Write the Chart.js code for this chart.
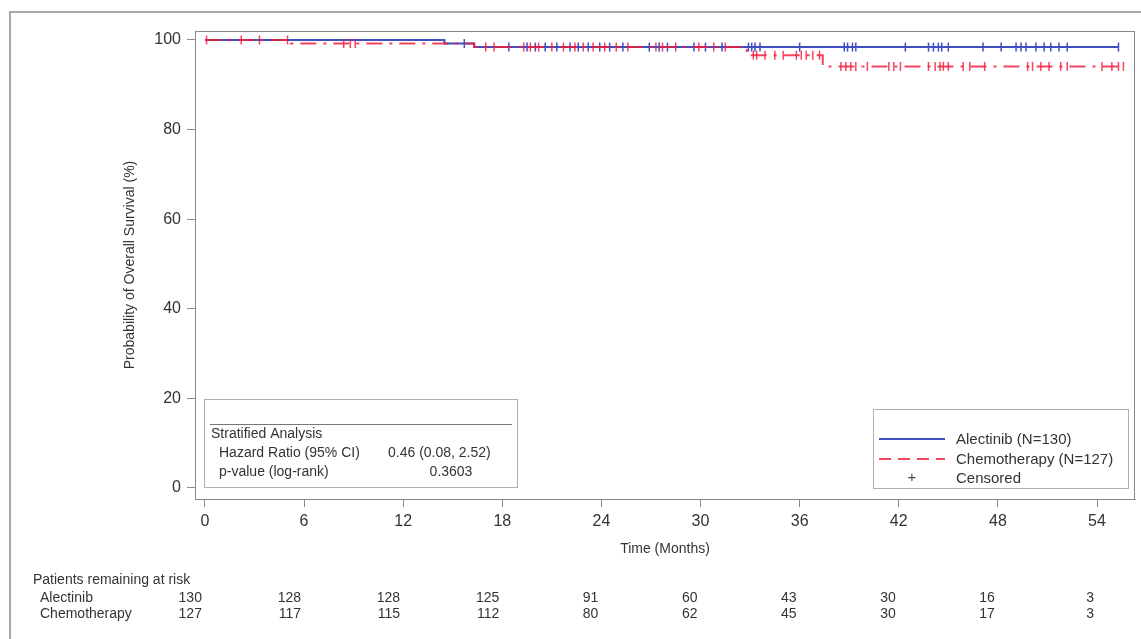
<!DOCTYPE html>
<html><head><meta charset="utf-8">
<script src="https://cdn.jsdelivr.net/npm/chart.js@4.4.1/dist/chart.umd.min.js"></script>
<style>html,body{margin:0;padding:0;background:#fff;}#wrap{width:1141px;height:639px;position:relative;}</style>
</head><body><div id="wrap"><canvas id="c" width="1141" height="639"></canvas></div>
<script>
const xTicks = [0, 6, 12, 18, 24, 30, 36, 42, 48, 54];
const yTicks = [0, 20, 40, 60, 80, 100];
const alecTimes = [0, 14.5, 16.3, 55.3];
const alecSurv  = [100, 99.2, 98.4, 98.4];
const chemoTimes = [0, 5.2, 16.3, 32.8, 37.4, 55.6];
const chemoSurv  = [100, 99.2, 98.4, 96.6, 94.1, 94.1];
const alecCensor = [15.7, 18.4, 19.5, 20.0, 20.6, 21.3, 22.1, 22.6, 23.2, 23.9, 24.5, 25.3, 26.9, 27.5, 28.0, 29.6, 30.3, 31.3, 32.9, 33.1, 33.3, 33.6, 36.0, 38.7, 38.9, 39.2, 39.4, 42.4, 43.8, 44.1, 44.4, 44.6, 45.0, 47.1, 48.2, 49.1, 49.4, 49.7, 50.3, 50.8, 51.2, 51.7, 52.2, 55.3];
const chemoCensor = [0.1, 2.2, 3.3, 5.0, 8.4, 8.8, 9.1, 17.0, 17.5, 19.3, 19.7, 20.2, 21.0, 21.7, 22.4, 22.9, 23.5, 24.2, 24.9, 25.6, 27.3, 27.7, 28.5, 29.9, 30.8, 31.5, 33.2, 33.4, 33.9, 34.5, 35.0, 35.8, 36.1, 36.4, 36.8, 37.2, 38.5, 38.8, 39.1, 39.4, 40.1, 41.4, 41.7, 42.1, 43.8, 44.2, 44.5, 44.7, 45.0, 45.9, 46.3, 47.2, 49.8, 50.1, 50.6, 51.1, 51.8, 52.2, 54.3, 54.9, 55.3, 55.6];
const riskAlec  = [130, 128, 128, 125, 91, 60, 43, 30, 16, 3];
const riskChemo = [127, 117, 115, 112, 80, 62, 45, 30, 17, 3];
const seriesNames = ['Alectinib (N=130)', 'Chemotherapy (N=127)'];
const riskNames = ['Alectinib', 'Chemotherapy'];

const FONT = "'Liberation Sans', Arial, sans-serif";
const TXT = '#333';
const BLUE = '#3f4fc2';
const RED = 'rgba(242,28,60,0.82)';
const RED_DASH = [16, 7, 3, 7];

function survAt(times, surv, t) {
  let v = surv[0];
  for (let i = 0; i < times.length; i++) { if (times[i] <= t) v = surv[i]; }
  return v;
}
const toPts = (times, surv) => times.map((t, i) => ({x: t, y: surv[i]}));
const censorPts = (ct, times, surv) => ct.map(t => ({x: t, y: survAt(times, surv, t)}));

const decor = {
  id: 'decor',
  beforeDraw(chart) {
    const ctx = chart.ctx;
    ctx.save();
    ctx.fillStyle = '#fff';
    ctx.fillRect(0, 0, chart.width, chart.height);
    ctx.strokeStyle = '#a8a8a8';
    ctx.lineWidth = 2;
    ctx.beginPath();
    ctx.moveTo(10, 639); ctx.lineTo(10, 12); ctx.lineTo(1141, 12);
    ctx.stroke();
    ctx.restore();
  },
  afterDraw(chart) {
    const ctx = chart.ctx;
    const a = chart.chartArea;
    const xs = chart.scales.x;
    ctx.save();
    // plot frame
    ctx.strokeStyle = '#8a8a8a';
    ctx.lineWidth = 1;
    ctx.strokeRect(a.left + 0.5, a.top + 0.5, a.right - a.left - 1, a.bottom - a.top);

    // stats box
    ctx.fillStyle = '#fff';
    ctx.strokeStyle = '#b0b0b0';
    ctx.strokeRect(204.5, 399.5, 313, 88);
    ctx.strokeStyle = '#777';
    ctx.beginPath(); ctx.moveTo(210, 424.5); ctx.lineTo(512, 424.5); ctx.stroke();
    ctx.fillStyle = TXT;
    ctx.font = '14px ' + FONT;
    ctx.textBaseline = 'middle';
    ctx.textAlign = 'left';
    ctx.fillText('Stratified Analysis', 211, 434);
    ctx.fillText('Hazard Ratio (95% CI)', 219, 453);
    ctx.fillText('0.46 (0.08, 2.52)', 388, 453);
    ctx.fillText('p-value (log-rank)', 219, 472);
    ctx.textAlign = 'center';
    ctx.fillText('0.3603', 451, 472);

    // legend box
    ctx.strokeStyle = '#b0b0b0';
    ctx.strokeRect(873.5, 409.5, 255, 79);
    ctx.lineWidth = 2;
    ctx.strokeStyle = BLUE;
    ctx.beginPath(); ctx.moveTo(879, 439); ctx.lineTo(945, 439); ctx.stroke();
    ctx.strokeStyle = RED;
    ctx.setLineDash([12, 7]);
    ctx.beginPath(); ctx.moveTo(879, 459); ctx.lineTo(945, 459); ctx.stroke();
    ctx.setLineDash([]);
    ctx.font = '15px ' + FONT;
    ctx.fillStyle = '#444';
    ctx.textAlign = 'center';
    ctx.fillText('+', 912, 478);
    ctx.textAlign = 'left';
    ctx.fillStyle = TXT;
    ctx.fillText(seriesNames[0], 956, 440);
    ctx.fillText(seriesNames[1], 956, 460);
    ctx.fillText('Censored', 956, 479);

    // at-risk table
    ctx.font = '14px ' + FONT;
    ctx.textAlign = 'left';
    ctx.fillText('Patients remaining at risk', 33, 580);
    ctx.fillText(riskNames[0], 40, 598);
    ctx.fillText(riskNames[1], 40, 614);
    ctx.textAlign = 'right';
    xTicks.forEach((t, i) => {
      const px = xs.getPixelForValue(t) - 3;
      ctx.fillText(String(riskAlec[i]), px, 598);
      ctx.fillText(String(riskChemo[i]), px, 614);
    });
    ctx.restore();
  }
};

new Chart(document.getElementById('c'), {
  data: {
    datasets: [
      {type: 'line', label: seriesNames[0], data: toPts(alecTimes, alecSurv), stepped: true, borderColor: BLUE, borderWidth: 2, pointRadius: 0, fill: false, order: 3},
      {type: 'line', label: seriesNames[1], data: toPts(chemoTimes, chemoSurv), stepped: true, borderColor: RED, borderWidth: 2, borderDash: RED_DASH, pointRadius: 0, fill: false, order: 1},
      {type: 'scatter', label: 'Censored A', data: censorPts(alecCensor, alecTimes, alecSurv), pointStyle: 'line', rotation: 90, pointRadius: 4.5, borderColor: BLUE, backgroundColor: BLUE, borderWidth: 1.5, order: 2},
      {type: 'scatter', label: 'Censored C', data: censorPts(chemoCensor, chemoTimes, chemoSurv), pointStyle: 'line', rotation: 90, pointRadius: 4.5, borderColor: RED, backgroundColor: RED, borderWidth: 1.5, order: 0}
    ]
  },
  options: {
    responsive: false,
    animation: false,
    devicePixelRatio: 1,
    layout: {padding: {left: 0, top: 31, right: 6, bottom: 0}},
    plugins: {legend: {display: false}, tooltip: {enabled: false}},
    scales: {
      x: {
        type: 'linear', min: -0.6, max: 56.3,
        afterBuildTicks: s => { s.ticks = xTicks.map(v => ({value: v})); },
        afterFit: s => { s.height = 140; },
        ticks: {font: {size: 16, family: FONT}, color: TXT, padding: 5, maxRotation: 0, autoSkip: false},
        grid: {drawOnChartArea: false, drawTicks: true, tickLength: 8, color: '#8a8a8a'},
        border: {display: true, color: '#8a8a8a', width: 1},
        title: {display: true, text: 'Time (Months)', font: {size: 14, family: FONT}, color: TXT, padding: {top: 0, bottom: 81}}
      },
      y: {
        type: 'linear', min: -2.5, max: 102,
        afterBuildTicks: s => { s.ticks = yTicks.map(v => ({value: v})); },
        afterFit: s => { s.width = 195; },
        ticks: {font: {size: 16, family: FONT}, color: TXT, padding: 6},
        grid: {drawOnChartArea: false, drawTicks: true, tickLength: 8, color: '#8a8a8a'},
        border: {display: true, color: '#8a8a8a', width: 1},
        title: {display: true, text: 'Probability of Overall Survival (%)', font: {size: 14, family: FONT}, color: TXT, padding: {top: 122, bottom: 0}}
      }
    }
  },
  plugins: [decor]
});
</script>
</body></html>
